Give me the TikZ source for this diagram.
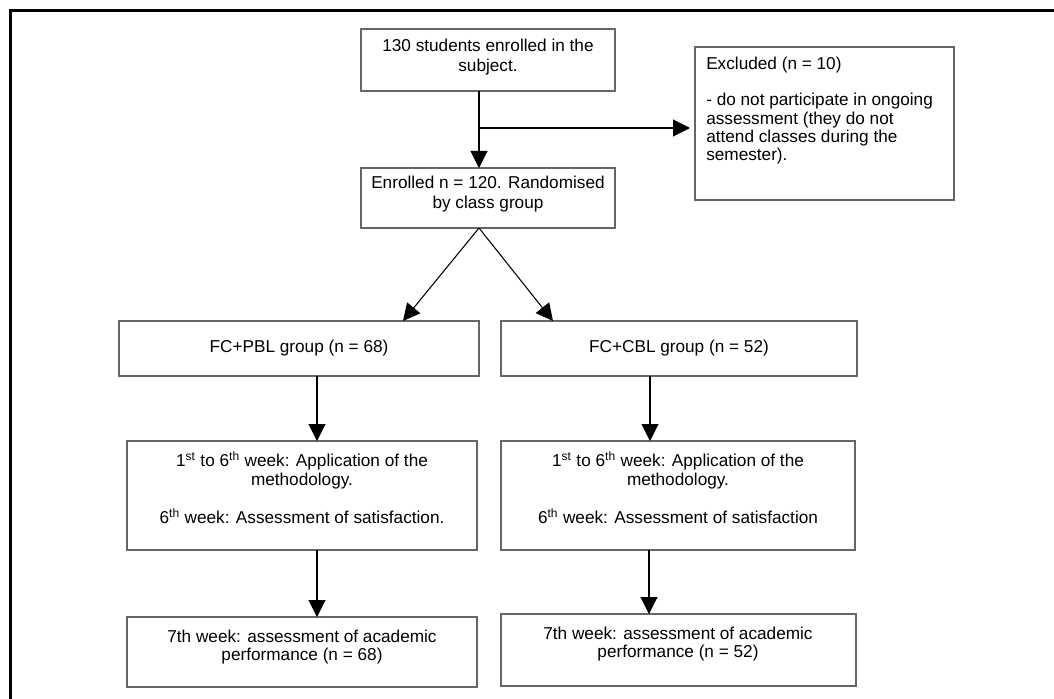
\documentclass[tikz,border=0pt]{standalone}
\usepackage{fontspec}
\setmainfont{Liberation Sans}
\usetikzlibrary{arrows.meta,calc}
\begin{document}
\begin{tikzpicture}[x=0.75pt,y=-0.75pt,
  box/.style={draw=black!60, line width=1.1pt, inner sep=0pt, outer sep=0pt, fill=none},
  txt/.style={inner sep=0pt, align=center, font=\fontsize{12.9pt}{14.25pt}\selectfont},
  conn/.style={line width=0.8pt, draw=black},
  arr/.style={conn, -{Triangle[length=12.75pt,width=12.75pt]}},
  frame/.style={line width=2.25pt, draw=black}]
\useasboundingbox (0,0) rectangle (1054,699);
% outer frame (top and left edges)
\draw[frame] (10.5,699) -- (10.5,11) -- (1054,11);
% boxes
\node[box, minimum width=190.5pt, minimum height=46.5pt] (b1) at (488,60) {};
\node[box, minimum width=190.5pt, minimum height=45pt] (b2) at (488,198) {};
\node[box, minimum width=194.25pt, minimum height=114.75pt] (ex) at (824.5,123.5) {};
\node[box, minimum width=270pt, minimum height=41.25pt] (pbl) at (299,348.5) {};
\node[box, minimum width=267pt, minimum height=41.25pt] (cbl) at (679,348.5) {};
\node[box, minimum width=262.5pt, minimum height=81.75pt] (w1) at (302,495.5) {};
\node[box, minimum width=265.5pt, minimum height=81.75pt] (w2) at (678,495.5) {};
\node[box, minimum width=262.5pt, minimum height=52.5pt] (s1) at (302,652) {};
\node[box, minimum width=266.25pt, minimum height=54pt] (s2) at (678.5,650) {};
% texts
\node[txt, font=\fontsize{12.9pt}{15pt}\selectfont] (t1) at (488,57) {130 students enrolled in the\\subject.};
\node[txt, font=\fontsize{12.9pt}{15pt}\selectfont] (t2) at (488,194) {Enrolled n = 120. Randomised\\by class group};
\node[txt, align=left, anchor=west, font=\fontsize{12.9pt}{13.65pt}\selectfont] (tex) at (706,110.5)
  {Excluded (n = 10)\\[13.65pt]- do not participate in ongoing\\assessment (they do not\\attend classes during the\\semester).};
\node[txt] (tpbl) at (299,348) {FC+PBL group (n = 68)};
\node[txt] (tcbl) at (679,348) {FC+CBL group (n = 52)};
\node[txt] (tw1) at (302,488) {1\textsuperscript{st} to 6\textsuperscript{th} week: Application of the\\methodology.\\[14.25pt]6\textsuperscript{th} week: Assessment of satisfaction.};
\node[txt] (tw2) at (678,488) {1\textsuperscript{st} to 6\textsuperscript{th} week: Application of the\\methodology.\\[14.25pt]6\textsuperscript{th} week: Assessment of satisfaction};
\node[txt, font=\fontsize{12.9pt}{13.5pt}\selectfont] (ts1) at (302,647) {7th week: assessment of academic\\performance (n = 68)};
\node[txt, font=\fontsize{12.9pt}{13.5pt}\selectfont] (ts2) at (678,644) {7th week: assessment of academic\\performance (n = 52)};
% connectors
\coordinate (j) at (479,128);
\draw[conn] (b1.south -| j) -- (j);
\draw[arr] (j) -- (b2.north -| j);
\draw[arr, shorten >=3.75pt] (j) -- (ex.west |- j);
\draw[arr] (b2.south -| j) -- ($(pbl.north)+(104,0)$);
\draw[arr] (b2.south -| j) -- ($(cbl.north)+(-126,0)$);
\draw[arr] ($(pbl.south)+(18,0)$) coordinate (p1) -- (p1 |- w1.north);
\draw[arr] ($(cbl.south)+(-29,0)$) coordinate (c1) -- (c1 |- w2.north);
\draw[arr] (w1.south -| p1) -- (s1.north -| p1);
\draw[arr] ($(w2.south)+(-29,0)$) coordinate (c2) -- (c2 |- s2.north);
\end{tikzpicture}
\end{document}
